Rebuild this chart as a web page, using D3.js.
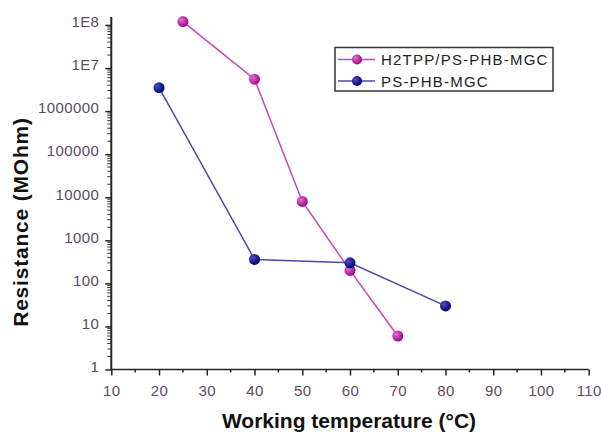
<!DOCTYPE html>
<html lang="en">
<head>
    <meta charset="UTF-8">
    <script src="https://d3js.org/d3.v7.min.js"></script>
    <style>
        body {
            margin: 0;
            padding: 0;
            background-color: #ffffff;
            font-family: 'Liberation Sans', Arial, sans-serif;
        }
        svg { display: block; }
        .tick-label {
            fill: #5b4b63;
            font-size: 15px;
            letter-spacing: 0.4px;
        }
        .axis-title {
            fill: #111111;
            font-size: 21px;
            font-weight: bold;
        }
        .legend-text {
            fill: #222222;
            font-size: 15px;
            letter-spacing: 1.2px;
        }
    </style>
</head>
<body>
    <svg id="chart"></svg>

    <script>
        // Data
        const seriesNames = ["H2TPP/PS-PHB-MGC", "PS-PHB-MGC"];
        const tempH2TPP = [25, 40, 50, 60, 70];
        const resH2TPP = [1.2e8, 5.5e6, 8000, 200, 6];
        const tempPS = [20, 40, 60, 80];
        const resPS = [3.5e6, 360, 300, 30];
        const xTicks = [10, 20, 30, 40, 50, 60, 70, 80, 90, 100, 110];
        const yTicks = [1, 10, 100, 1000, 10000, 100000, 1000000, 1e7, 1e8];
        const yTickLabels = ["1", "10", "100", "1000", "10000", "100000", "1000000", "1E7", "1E8"];

        const width = 601, height = 435;

        const svg = d3.select("#chart")
            .attr("width", width)
            .attr("height", height);

        const x = d3.scaleLinear().domain([10, 110]).range([111.3, 588.7]);
        const y = d3.scaleLog().domain([1, 1.53e8]).range([369.5, 17]);

        const colors = {
            line: ["#cc44bb", "#4a4aaa"],
            fill: ["#9c0a8c", "#00007a"],
            hi: ["#e070d0", "#5050c0"]
        };

        // gradients for the glossy markers
        const defs = svg.append("defs");
        [0, 1].forEach(i => {
            const g = defs.append("radialGradient")
                .attr("id", "mk" + i)
                .attr("cx", "35%").attr("cy", "35%").attr("r", "65%");
            g.append("stop").attr("offset", "0%").attr("stop-color", colors.hi[i]);
            g.append("stop").attr("offset", "100%").attr("stop-color", colors.fill[i]);
        });

        // X axis
        const xAxis = d3.axisBottom(x)
            .tickValues(xTicks)
            .tickSize(6)
            .tickPadding(9.5)
            .tickFormat(d => d);
        const gx = svg.append("g")
            .attr("transform", `translate(0,${y(1)})`)
            .call(xAxis);
        gx.select(".domain").attr("stroke", "#222").attr("stroke-width", 1.5)
            .attr("d", `M${x(10)},0H${x(110)}`);
        gx.selectAll(".tick line").attr("stroke", "#222").attr("stroke-width", 1.5);
        gx.selectAll(".tick text").attr("class", "tick-label").attr("font-family", null).attr("font-size", null);

        // X minor ticks
        svg.append("g")
            .selectAll("line")
            .data(d3.range(15, 110, 10))
            .join("line")
            .attr("x1", d => x(d)).attr("x2", d => x(d))
            .attr("y1", y(1)).attr("y2", y(1) + 3)
            .attr("stroke", "#222").attr("stroke-width", 1.5);

        // Y axis
        const yAxis = d3.axisLeft(y)
            .tickValues(yTicks)
            .tickSize(6)
            .tickPadding(6)
            .tickFormat((d, i) => yTickLabels[i]);
        const gy = svg.append("g")
            .attr("transform", `translate(${x(10)},0)`)
            .call(yAxis);
        gy.select(".domain").attr("stroke", "#222").attr("stroke-width", 2)
            .attr("d", `M0,${y.range()[1]}V${y(1)}`);
        gy.selectAll(".tick line").attr("stroke", "#222").attr("stroke-width", 1.5);
        gy.selectAll(".tick text").attr("class", "tick-label").attr("font-family", null)
            .attr("font-size", null).attr("dy", "0.12em");

        // Y minor ticks
        const minorY = [];
        for (let e = 0; e <= 8; e++) {
            for (let m = 2; m <= 9; m++) {
                const v = m * Math.pow(10, e);
                if (v <= y.domain()[1]) minorY.push(v);
            }
        }
        svg.append("g")
            .selectAll("line")
            .data(minorY)
            .join("line")
            .attr("x1", x(10) - 4).attr("x2", x(10))
            .attr("y1", d => y(d)).attr("y2", d => y(d))
            .attr("stroke", "#333").attr("stroke-width", 1);

        // Axis titles
        svg.append("text")
            .attr("class", "axis-title")
            .attr("x", 349).attr("y", 428)
            .attr("text-anchor", "middle")
            .text("Working temperature (°C)");

        svg.append("text")
            .attr("class", "axis-title")
            .attr("transform", "translate(28,222) rotate(-90)")
            .attr("text-anchor", "middle")
            .attr("letter-spacing", "0.8px")
            .text("Resistance (MOhm)");

        // Series
        const series = [
            { name: seriesNames[0], xs: tempH2TPP, ys: resH2TPP },
            { name: seriesNames[1], xs: tempPS, ys: resPS }
        ];

        const line = d3.line().x(d => x(d[0])).y(d => y(d[1]));

        series.forEach((s, i) => {
            const pts = s.xs.map((t, j) => [t, s.ys[j]]);
            svg.append("path")
                .datum(pts)
                .attr("fill", "none")
                .attr("stroke", colors.line[i])
                .attr("stroke-width", 1.5)
                .attr("d", line);
            svg.append("g")
                .selectAll("circle")
                .data(pts)
                .join("circle")
                .attr("cx", d => x(d[0]))
                .attr("cy", d => y(d[1]))
                .attr("r", 5.5)
                .attr("fill", `url(#mk${i})`);
        });

        // Legend
        const legend = svg.append("g");
        legend.append("rect")
            .attr("x", 335).attr("y", 47.5)
            .attr("width", 218).attr("height", 43.5)
            .attr("fill", "#fff")
            .attr("stroke", "#333")
            .attr("stroke-width", 1.5);

        series.forEach((s, i) => {
            const ly = 59.5 + i * 21.5;
            legend.append("line")
                .attr("x1", 338).attr("x2", 375)
                .attr("y1", ly).attr("y2", ly)
                .attr("stroke", colors.line[i]).attr("stroke-width", 1.5);
            legend.append("circle")
                .attr("cx", 357).attr("cy", ly).attr("r", 5)
                .attr("fill", `url(#mk${i})`);
            legend.append("text")
                .attr("class", "legend-text")
                .attr("x", 381).attr("y", ly + 5.5)
                .text(s.name);
        });
    </script>
</body>
</html>
